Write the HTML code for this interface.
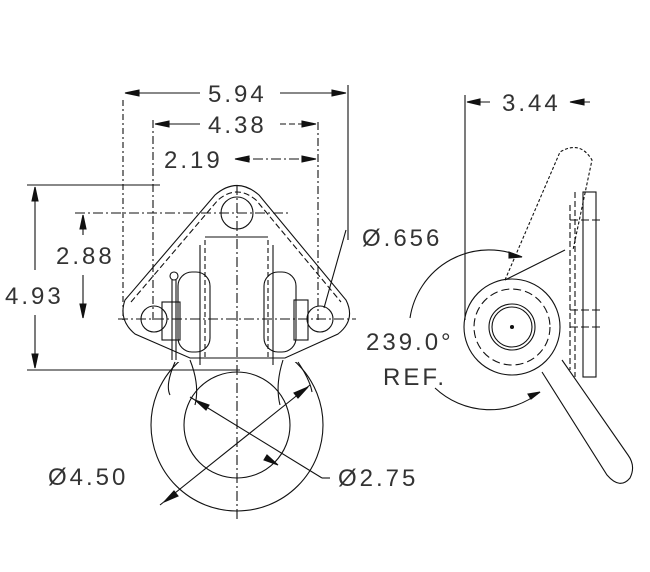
<!DOCTYPE html>
<html><head><style>
html,body{margin:0;padding:0;background:#fff}
svg{display:block}
text{font-family:"Liberation Sans",sans-serif;font-size:24px;fill:#333;stroke:none;letter-spacing:3px}
</style></head><body>
<svg width="650" height="572" viewBox="0 0 650 572" xmlns="http://www.w3.org/2000/svg" fill="none" stroke="#111" stroke-width="1.1">
<defs><clipPath id="c"><rect x="0" y="362" width="650" height="210"/></clipPath></defs>
<line x1="123" y1="100" x2="123" y2="320" stroke-dasharray="6,3,2,3"/>
<line x1="348" y1="85" x2="348" y2="240"/>
<line x1="153" y1="120" x2="153" y2="320" stroke-dasharray="8,3,2,3"/>
<line x1="318" y1="122" x2="318" y2="320" stroke-dasharray="8,3,2,3"/>
<line x1="125" y1="93" x2="200" y2="93"/><line x1="280" y1="93" x2="346" y2="93"/>
<path d="M125 93 l14 -3 v6z M346 93 l-14 -3 v6z" fill="#111"/>
<text x="208" y="102">5.94</text>
<line x1="155" y1="124" x2="200" y2="124"/><line x1="280" y1="124" x2="316" y2="124" stroke-dasharray="6,3"/>
<path d="M155 124 l14 -3 v6z M316 124 l-14 -3 v6z" fill="#111"/>
<text x="208" y="133">4.38</text>
<text x="164" y="168">2.19</text>
<line x1="235" y1="159" x2="316" y2="159" stroke-dasharray="10,3,2,3"/>
<path d="M235 159 l14 -3 v6z M316 159 l-14 -3 v6z" fill="#111"/>
<line x1="27" y1="185" x2="160" y2="185"/>
<line x1="27" y1="370" x2="240" y2="370"/>
<line x1="35" y1="187" x2="35" y2="270"/><line x1="35" y1="315" x2="35" y2="368"/>
<path d="M35 187 l-3 14 h6z M35 368 l-3 -14 h6z" fill="#111"/>
<text x="5" y="304">4.93</text>
<line x1="75" y1="213" x2="290" y2="213" stroke-dasharray="10,3,2,3"/>
<line x1="83" y1="215" x2="83" y2="235"/><line x1="83" y1="275" x2="83" y2="318"/>
<path d="M83 215 l-3 14 h6z M83 318 l-3 -14 h6z" fill="#111"/>
<text x="56" y="264">2.88</text>
<path d="M125 300 L215 195 Q237 176 259 195 L346 300 Q356 320 338 334 L285 358 L190 358 L135 334 Q118 320 125 300Z"/>
<path d="M131 302 L218 200 Q237 184 256 200 L341 302" stroke-dasharray="6,3"/>
<circle cx="237" cy="213" r="16"/>
<circle cx="154" cy="319" r="13"/><circle cx="320" cy="319" r="13"/>
<line x1="118" y1="319" x2="356" y2="319" stroke-dasharray="10,3,2,3"/>
<line x1="237" y1="185" x2="237" y2="520" stroke-dasharray="10,3,2,3"/>
<path d="M200 245 V365 M273 245 V365 M205 237 H268" />
<path d="M205 240 V360 M268 240 V360" stroke-dasharray="5,3"/>
<rect x="178" y="272" width="32" height="80" rx="14"/>
<rect x="264" y="272" width="32" height="80" rx="14"/>
<rect x="162" y="302" width="18" height="38"/>
<rect x="294" y="300" width="14" height="40"/>
<circle cx="174" cy="276" r="4"/>
<line x1="172" y1="280" x2="172" y2="360"/><line x1="176" y1="280" x2="176" y2="360"/>
<g clip-path="url(#c)">
<circle cx="237" cy="425" r="86"/>
<circle cx="237" cy="425" r="53"/>
</g>
<path d="M175 362 Q165 385 170 395 M298 362 Q310 380 312 392 M190 360 Q200 385 195 405 M283 360 Q275 385 280 405"/>
<line x1="160" y1="505" x2="310" y2="385"/>
<line x1="190" y1="397" x2="322" y2="478"/><line x1="322" y1="478" x2="330" y2="478"/>
<path d="M164 502 l10 -11 l4 5z M308 387 l-10 11 l-4 -5z M195 400 l14 5 l-3 5z M278 465 l-14 -5 l3 -5z" fill="#111"/>
<text x="48" y="485">Ø4.50</text>
<text x="338" y="486">Ø2.75</text>
<text x="362" y="246">Ø.656</text>
<line x1="346" y1="230" x2="324" y2="308"/>
<line x1="465" y1="95" x2="465" y2="320"/>
<line x1="467" y1="102" x2="490" y2="102"/><line x1="570" y1="102" x2="590" y2="102"/>
<path d="M467 102 l13 -3 v6z M570 102 l14 -3 v6z" fill="#111"/>
<text x="502" y="111">3.44</text>
<rect x="583" y="192" width="13" height="185"/>
<path d="M575 192 V377 M570 205 V370" stroke-dasharray="6,3"/>
<line x1="570" y1="220" x2="602" y2="220" stroke-dasharray="8,3"/>
<line x1="570" y1="310" x2="600" y2="310" stroke-dasharray="8,3"/>
<line x1="570" y1="327" x2="600" y2="327" stroke-dasharray="8,3"/>
<path d="M505 280 L560 152 Q580 140 592 160 L573 250" stroke-dasharray="3,2"/>
<circle cx="512" cy="327" r="48"/>
<circle cx="512" cy="327" r="38" stroke-dasharray="8,4"/>
<circle cx="512" cy="327" r="23"/><circle cx="512" cy="327" r="20"/>
<circle cx="512" cy="327" r="1.5" fill="#111"/>
<path d="M542 372 L607 475 Q620 490 630 478 Q636 466 628 455 L562 360"/>
<line x1="505" y1="280" x2="565" y2="250"/>
<path d="M410 318 A80 80 0 0 1 522 257"/>
<path d="M435 388 A80 80 0 0 0 540 392"/>
<path d="M522 257 l-13 -5 v6z M540 392 l-12 2 l3 5z" fill="#111"/>
<text x="366" y="350">239.0°</text>
<text x="383" y="385">REF.</text>
</svg>
</body></html>
